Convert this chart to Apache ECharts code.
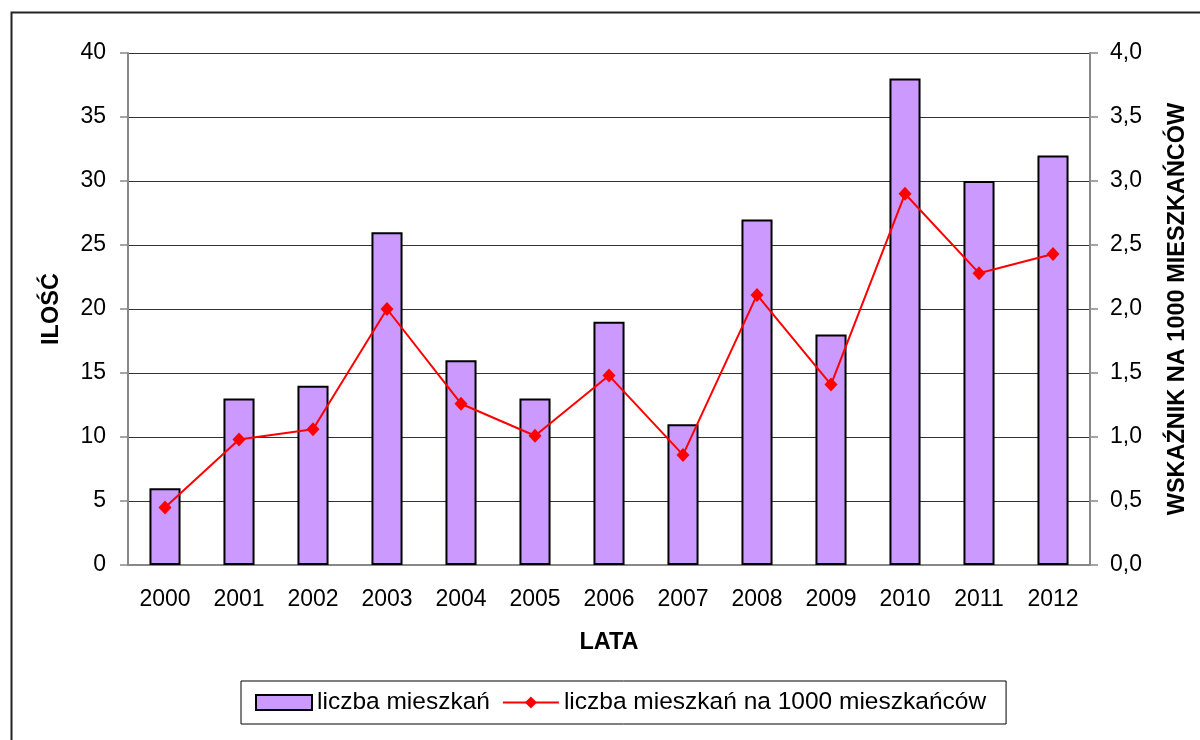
<!DOCTYPE html>
<html>
<head>
<meta charset="utf-8">
<script src="https://cdn.jsdelivr.net/npm/echarts@6/dist/echarts.min.js"></script>
<style>
  html, body { margin: 0; padding: 0; background: #fff; }
  #chart { width: 1200px; height: 740px; }
</style>
</head>
<body>
<div id="chart"></div>
<script>
// Lata (oś X)
const years = ['2000', '2001', '2002', '2003', '2004', '2005', '2006', '2007', '2008', '2009', '2010', '2011', '2012'];
// Liczba mieszkań (oś lewa)
const flats = [6, 13, 14, 26, 16, 13, 19, 11, 27, 18, 38, 30, 32];
// Liczba mieszkań na 1000 mieszkańców (oś prawa)
const perThousand = [0.45, 0.98, 1.06, 2.0, 1.26, 1.01, 1.48, 0.86, 2.11, 1.41, 2.90, 2.28, 2.43];

const seriesNames = ['liczba mieszkań', 'liczba mieszkań na 1000 mieszkańców'];
const axisNames = { x: 'LATA', left: 'ILOŚĆ', right: 'WSKAŹNIK NA 1000 MIESZKAŃCÓW' };

const FONT = "'Liberation Sans', Arial, sans-serif";
const AXIS_GRAY = '#888888';
const LABEL_SIZE = 23;
const TITLE_SIZE = 23.5;

const chart = echarts.init(document.getElementById('chart'), null, { renderer: 'canvas' });

chart.setOption({
  animation: false,
  backgroundColor: '#ffffff',
  textStyle: { fontFamily: FONT },
  graphic: [{
    type: 'rect',
    left: 9, top: 10,
    shape: { width: 1210, height: 760 },
    style: { fill: 'none', stroke: '#222', lineWidth: 2 },
    silent: true
  }],
  grid: { left: 128, right: 110, top: 53, bottom: 175 },
  legend: {
    left: 241, top: 681,
    padding: [9, 20, 9, 14],
    itemGap: 12,
    itemWidth: 56, itemHeight: 15,
    borderColor: '#000', borderWidth: 1,
    textStyle: { fontSize: 24.5, color: '#000', fontFamily: FONT },
    data: [
      { name: seriesNames[0], icon: 'rect', itemStyle: { borderWidth: 2 } },
      { name: seriesNames[1] }
    ]
  },
  xAxis: [{
    type: 'category',
    data: years,
    name: axisNames.x,
    nameLocation: 'middle',
    nameGap: 66,
    nameTextStyle: { fontSize: TITLE_SIZE, fontWeight: 'bold', color: '#000' },
    axisLine: { lineStyle: { color: AXIS_GRAY, width: 2 } },
    axisTick: { length: 8, lineStyle: { color: AXIS_GRAY, width: 1.5 } },
    axisLabel: { fontSize: LABEL_SIZE, color: '#000', margin: 23 }
  }, {
    type: 'category',
    data: years,
    position: 'bottom',
    axisLine: { show: false },
    axisTick: { inside: true, length: 8, lineStyle: { color: AXIS_GRAY, width: 1.5 } },
    axisLabel: { show: false }
  }],
  yAxis: [{
    type: 'value',
    min: 0, max: 40, interval: 5,
    name: axisNames.left,
    nameLocation: 'middle',
    nameRotate: 90,
    nameGap: 64,
    nameTextStyle: { fontSize: TITLE_SIZE, fontWeight: 'bold', color: '#000' },
    axisLine: { show: true, lineStyle: { color: AXIS_GRAY, width: 2 } },
    axisTick: { show: true, length: 8, lineStyle: { color: AXIS_GRAY, width: 1.5 } },
    axisLabel: { fontSize: LABEL_SIZE, color: '#000', margin: 22 },
    splitLine: { show: true, lineStyle: { color: '#333333', width: 1 } }
  }, {
    type: 'value',
    min: 0, max: 4, interval: 0.5,
    position: 'right',
    name: axisNames.right,
    nameLocation: 'middle',
    nameRotate: 90,
    nameGap: 76,
    nameTextStyle: { fontSize: TITLE_SIZE, fontWeight: 'bold', color: '#000', padding: [0, 0, 0, 0] },
    axisLine: { show: true, lineStyle: { color: AXIS_GRAY, width: 2 } },
    axisTick: { show: true, length: 8, lineStyle: { color: AXIS_GRAY, width: 1.5 } },
    axisLabel: {
      fontSize: LABEL_SIZE, color: '#000', margin: 20,
      formatter: v => v.toFixed(1).replace('.', ',')
    },
    splitLine: { show: false }
  }],
  series: [{
    name: seriesNames[0],
    type: 'bar',
    xAxisIndex: 0,
    yAxisIndex: 0,
    data: flats,
    barWidth: '42%',
    itemStyle: { color: '#CC99FF', borderColor: '#000', borderWidth: 2 }
  }, {
    name: seriesNames[1],
    type: 'line',
    xAxisIndex: 0,
    yAxisIndex: 1,
    data: perThousand,
    symbol: 'diamond',
    symbolSize: [13, 14],
    lineStyle: { color: '#FF0000', width: 2 },
    itemStyle: { color: '#FF0000' }
  }]
});
</script>
</body>
</html>
